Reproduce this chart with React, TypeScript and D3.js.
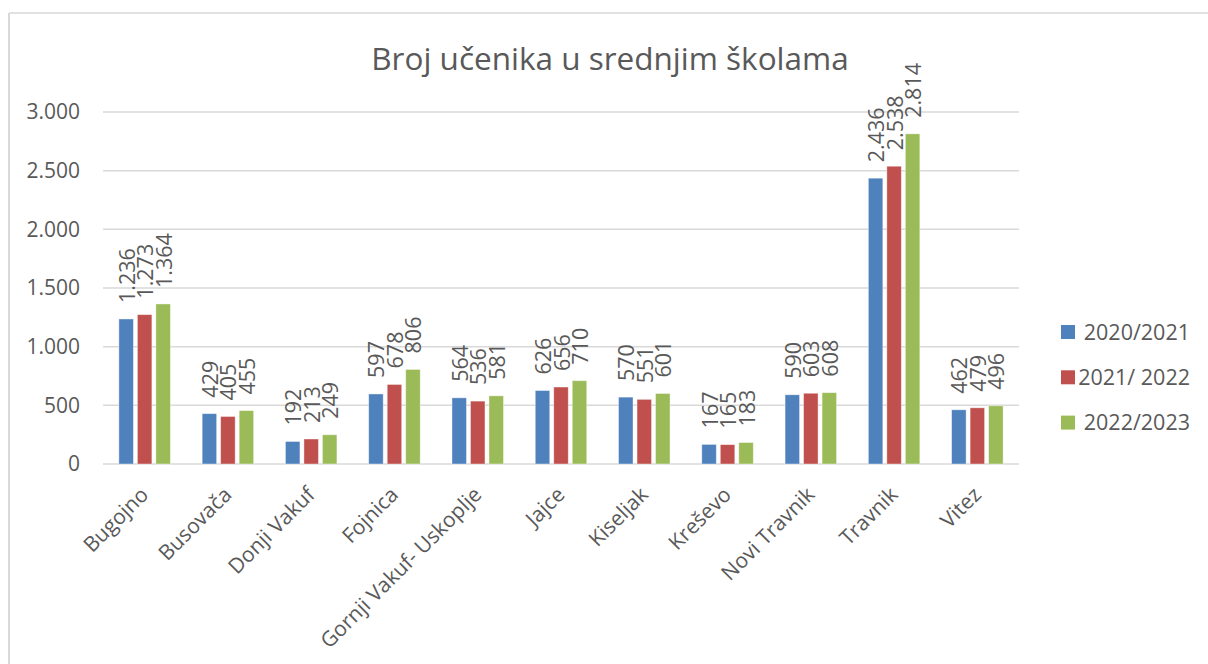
import React from "react";
import * as d3 from "d3";

const categories = ["Bugojno", "Busovača", "Donji Vakuf", "Fojnica", "Gornji Vakuf- Uskoplje", "Jajce", "Kiseljak", "Kreševo", "Novi Travnik", "Travnik", "Vitez"];
const seriesNames = ["2020/2021", "2021/ 2022", "2022/2023"];
const values2020 = [1236, 429, 192, 597, 564, 626, 570, 167, 590, 2436, 462];
const values2021 = [1273, 405, 213, 678, 536, 656, 551, 165, 603, 2538, 479];
const values2022 = [1364, 455, 249, 806, 581, 710, 601, 183, 608, 2814, 496];
const yTicks = [0, 500, 1000, 1500, 2000, 2500, 3000];
const colors = ["#4F81BD", "#C0504D", "#9BBB59"];

const W = 1208, H = 664;
const FONT = "'Open Sans', 'Noto Sans', sans-serif";
const TXT = "#595959";

export default function App() {
  const series = [values2020, values2021, values2022];
  const left = 103, right = 1019, top = 112, bottom = 464;
  const step = (right - left) / categories.length;
  const groupW = 51.5;
  const pad = (step - groupW) / step;
  const x0 = d3.scaleBand<string>().domain(categories).range([left, right]).paddingInner(pad).paddingOuter(pad / 2);
  const x1 = d3.scaleBand<string>().domain(seriesNames).range([0, x0.bandwidth()]).paddingInner(4 / 18.5).paddingOuter(0);
  const y = d3.scaleLinear().domain([0, 3000]).range([bottom, top]);
  const fmt = (v: number) => d3.format(",")(v).replace(/,/g, ".");

  return (
    <svg width={W} height={H} style={{ position: "absolute", left: 0, top: 0, background: "#fff" }} fontFamily={FONT}>
      <rect x={0} y={0} width={W} height={H} fill="#fff" />
      <line x1={9} y1={13} x2={9} y2={H} stroke="#d9d9d9" strokeWidth={2} />
      <line x1={9} y1={13} x2={W} y2={13} stroke="#d9d9d9" strokeWidth={1.5} />
      <text x={610} y={70} textAnchor="middle" fontSize={31.5} fill={TXT}>Broj učenika u srednjim školama</text>
      {yTicks.map((t) => (
        <g key={t}>
          <line x1={left} x2={right} y1={y(t)} y2={y(t)} stroke="#d9d9d9" strokeWidth={1.5} />
          <text x={80} y={y(t)} dy="0.35em" textAnchor="end" fontSize={21} fill={TXT}>{fmt(t)}</text>
        </g>
      ))}
      {categories.map((c, i) => (
        <g key={c}>
          {series.map((vals, s) => {
            const bx = (x0(c) as number) + (x1(seriesNames[s]) as number);
            const bw = x1.bandwidth();
            const by = y(vals[i]);
            const cx = bx + bw / 2;
            return (
              <g key={s}>
                <rect x={bx} y={by} width={bw} height={bottom - by} fill={colors[s]} stroke="#fff" strokeOpacity={0.5} strokeWidth={0.8} />
                <text transform={`translate(${cx + 1},${by - 16}) rotate(-90)`} dy="0.35em" textAnchor="start" fontSize={21.5} fill={TXT}>{fmt(vals[i])}</text>
              </g>
            );
          })}
          <text transform={`translate(${(x0(c) as number) + x0.bandwidth() / 2 + 5},${496}) rotate(-45)`} textAnchor="end" fontSize={21} fill={TXT}>{c}</text>
        </g>
      ))}
      {seriesNames.map((n, s) => {
        const cy = 332 + s * 45.3;
        return (
          <g key={n}>
            <rect x={1061} y={cy - 7} width={14} height={14} fill={colors[s]} />
            <text x={1190} y={cy} dy="0.35em" textAnchor="end" fontSize={21.5} fill={TXT}>{n}</text>
          </g>
        );
      })}
    </svg>
  );
}
